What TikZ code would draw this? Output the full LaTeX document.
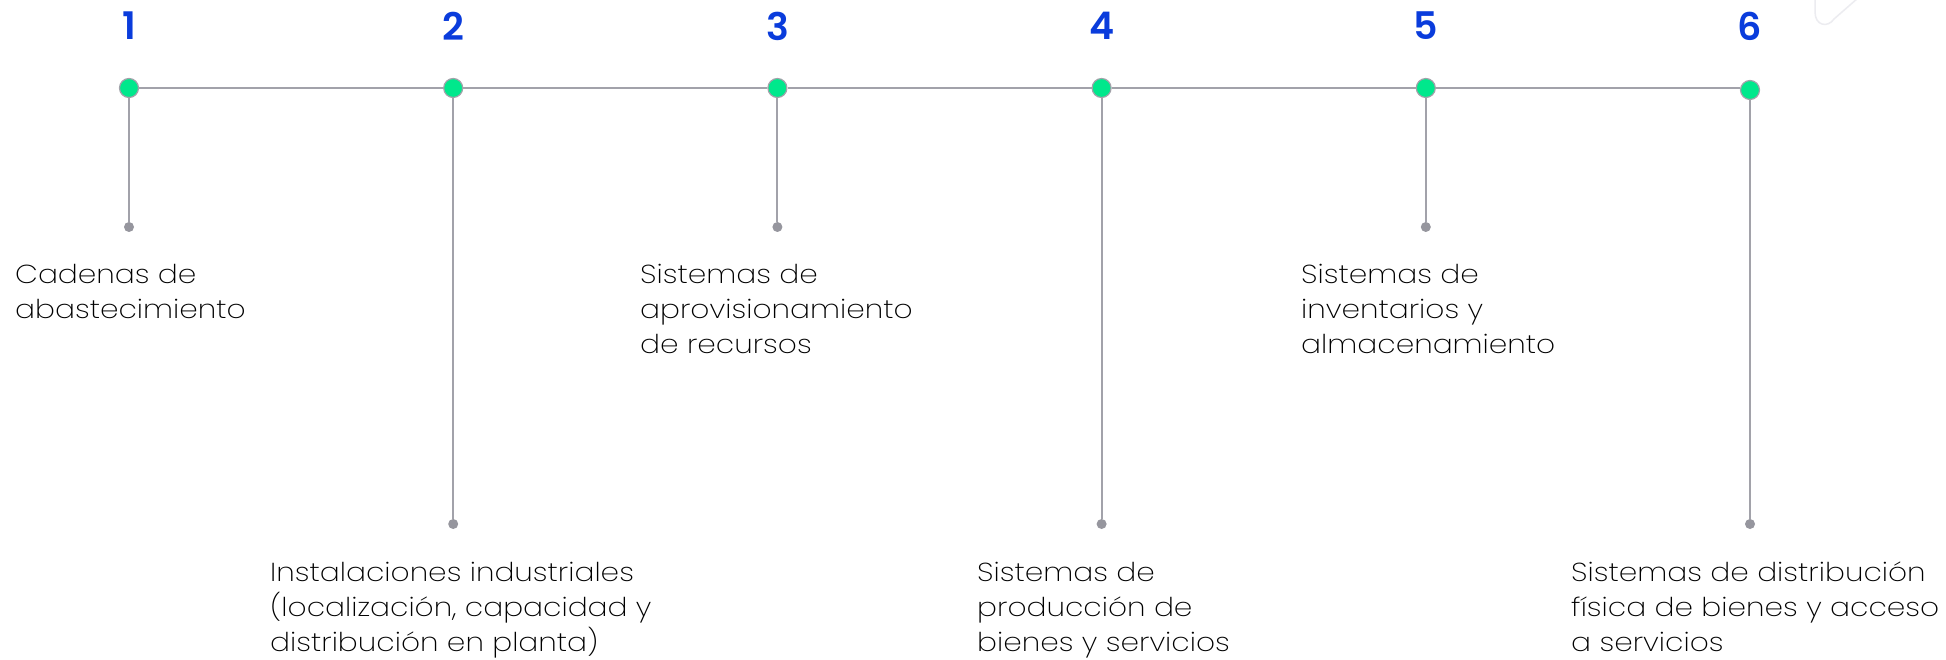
\documentclass[tikz,border=0pt]{standalone}
\usepackage{fontspec}
\setmainfont{Poppins ExtraLight}[BoldFont={Poppins SemiBold}, FakeStretch=1.14]
\newfontfamily\numfont{Poppins SemiBold}
\definecolor{numblue}{RGB}{10,60,220}
\definecolor{dotgreen}{RGB}{0,232,140}
\definecolor{linegray}{RGB}{162,162,170}
\definecolor{enddotgray}{RGB}{150,150,158}
\definecolor{faint}{RGB}{236,236,240}
\tikzset{
 mainpt/.style={circle, fill=dotgreen, draw=linegray, line width=1.2pt, minimum size=19pt, inner sep=0pt},
 endpt/.style={circle, fill=enddotgray, minimum size=10pt, inner sep=0pt},
 numlbl/.style={text=numblue, inner sep=0pt, font=\fontsize{38}{40}\selectfont\numfont},
 desc/.style={align=left, anchor=north west, inner sep=0pt, text=black, font=\fontsize{26}{35}\selectfont},
 conn/.style={draw=linegray, line width=2pt}
}
\begin{document}
\begin{tikzpicture}[x=1pt,y=-1pt]
\useasboundingbox (0,0) rectangle (1946,660);
\fill[white] (0,0) rectangle (1946,660);
\draw[faint, line width=1.5pt, line cap=round] (1815,0) -- (1815,12) .. controls (1815,26) and (1828,28) .. (1834,19) -- (1858,-2);
% numbers
\node[numlbl] (n1) at (129,26) {1};
\node[numlbl] (n2) at (453.2,26) {2};
\node[numlbl] (n3) at (777.4,26) {3};
\node[numlbl] (n4) at (1101.6,26) {4};
\node[numlbl] (n5) at (1425.8,26) {5};
\node[numlbl] (n6) at (1750,26) {6};
% main dots
\node[mainpt] (d1) at (129,88) {};
\node[mainpt] (d2) at (453.2,88) {};
\node[mainpt] (d3) at (777.4,88) {};
\node[mainpt] (d4) at (1101.6,88) {};
\node[mainpt] (d5) at (1425.8,88) {};
\node[mainpt] (d6) at (1750,90) {};
% end dots
\node[endpt] (e1) at (129,227) {};
\node[endpt] (e2) at (453.2,524) {};
\node[endpt] (e3) at (777.4,227) {};
\node[endpt] (e4) at (1101.6,524) {};
\node[endpt] (e5) at (1425.8,227) {};
\node[endpt] (e6) at (1750,524) {};
% connectors
\draw[conn] (d1) -- (d2) -- (d3) -- (d4) -- (d5) -- (d5 -| d6.west);
\foreach \i in {1,...,6} { \draw[conn] (d\i) -- (e\i); }
% labels
\node[desc] (t1) at (15,264) {Cadenas de\\abastecimiento};
\node[desc] (t2) at (270,562) {Instalaciones industriales\\(localización, capacidad y\\distribución en planta)};
\node[desc] (t3) at (640,264) {Sistemas de\\aprovisionamiento\\de recursos};
\node[desc] (t4) at (977,562) {Sistemas de\\producción de\\bienes y servicios};
\node[desc] (t5) at (1301,264) {Sistemas de\\inventarios y\\almacenamiento};
\node[desc] (t6) at (1571,562) {Sistemas de distribución\\física de bienes y acceso\\a servicios};
\end{tikzpicture}
\end{document}
